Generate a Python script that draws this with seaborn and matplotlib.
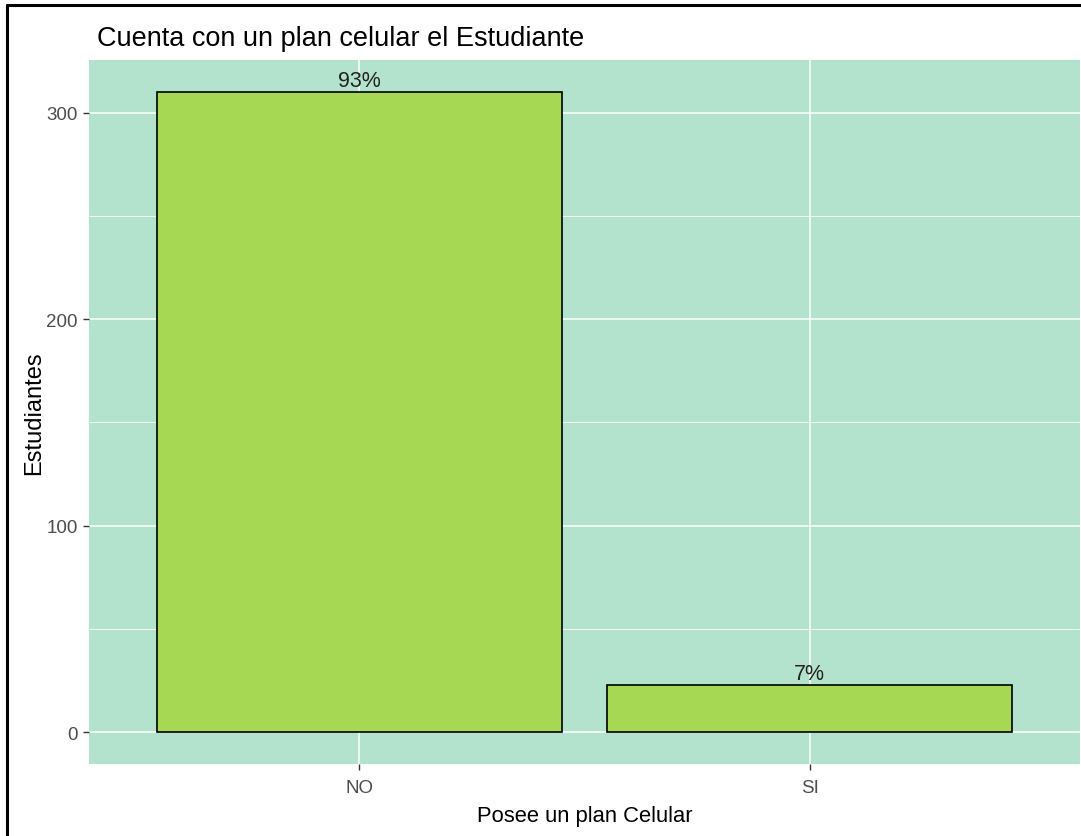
import matplotlib
matplotlib.use("Agg")
import matplotlib.pyplot as plt
import seaborn as sns
import pandas as pd
from matplotlib.lines import Line2D

# datos
categorias = ["NO", "SI"]
estudiantes = [310, 23]
porcentajes = ["93%", "7%"]

df = pd.DataFrame({"plan": categorias, "n": estudiantes})

sns.set_theme(style="darkgrid")
plt.rcParams["font.family"] = ["Liberation Sans", "DejaVu Sans"]

fig = plt.figure(figsize=(10.81, 8.37), dpi=100)
ax = fig.add_axes([0.0823, 0.086, 0.9167, 0.841])
ax.set_facecolor("#B3E2CD")

sns.barplot(data=df, x="plan", y="n", color="#A6D854", edgecolor="black",
            linewidth=1.2, width=0.9, saturation=1, ax=ax, zorder=3)

for i, (v, p) in enumerate(zip(estudiantes, porcentajes)):
    ax.text(i, v + 0.3, p, ha="center", va="bottom", fontsize=15.5, color="#222222", zorder=4)

ax.set_xlim(-0.6, 1.6)
ax.set_ylim(-15.5, 325.5)
ax.set_yticks([0, 100, 200, 300])
ax.set_yticks([50, 150, 250], minor=True)
ax.grid(which="major", color="white", linewidth=1.1, zorder=0)
ax.grid(which="minor", axis="y", color="white", linewidth=0.6, zorder=0)
ax.set_axisbelow(True)
for s in ax.spines.values():
    s.set_visible(False)

ax.tick_params(axis="both", which="major", length=4, width=1, color="#333333",
               labelsize=13.5, labelcolor="#4D4D4D", left=True, bottom=True)
ax.tick_params(axis="x", which="major", pad=7)
ax.tick_params(axis="y", which="major", pad=4)
ax.tick_params(axis="both", which="minor", length=0)

ax.set_xlabel("Posee un plan Celular", fontsize=15.8, color="black", labelpad=6)
ax.set_ylabel("Estudiantes", fontsize=17, color="black", labelpad=1)
fig.text(97 / 1081, 1 - 46 / 837, "Cuenta con un plan celular el Estudiante",
         fontsize=19.5, color="black", ha="left", va="baseline")

# marco exterior de la imagen
fig.add_artist(Line2D([7 / 1081, 7 / 1081], [0, 1 - 6 / 837], transform=fig.transFigure,
                      color="black", linewidth=2.2))
fig.add_artist(Line2D([7 / 1081, 1], [1 - 6 / 837, 1 - 6 / 837], transform=fig.transFigure,
                      color="black", linewidth=2.2))

fig.savefig("out.png", dpi=100)
